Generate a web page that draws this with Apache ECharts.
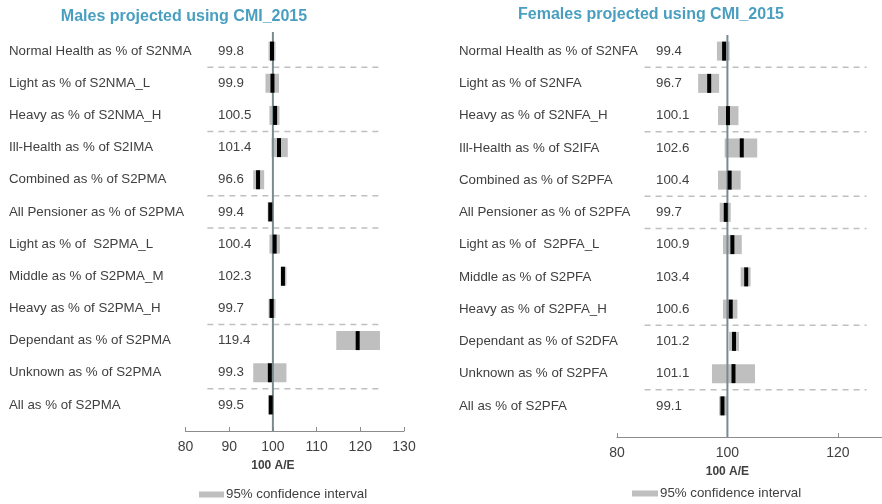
<!DOCTYPE html>
<html>
<head>
<meta charset="utf-8">
<script src="https://cdn.jsdelivr.net/npm/echarts@6/dist/echarts.min.js"></script>
<style>
  html, body { margin: 0; padding: 0; background: #fff; }
  #main { width: 882px; height: 504px; }
</style>
</head>
<body>
<div id="main"></div>
<script>
// 男性数据
var maleLabels = ['Normal Health as % of S2NMA', 'Light as % of S2NMA_L', 'Heavy as % of S2NMA_H',
    'Ill-Health as % of S2IMA', 'Combined as % of S2PMA', 'All Pensioner as % of S2PMA',
    'Light as % of  S2PMA_L', 'Middle as % of S2PMA_M', 'Heavy as % of S2PMA_H',
    'Dependant as % of S2PMA', 'Unknown as % of S2PMA', 'All as % of S2PMA'];
var maleAE = [99.8, 99.9, 100.5, 101.4, 96.6, 99.4, 100.4, 102.3, 99.7, 119.4, 99.3, 99.5];
var maleLow = [99.0, 98.3, 99.2, 99.7, 95.5, 98.8, 99.2, 101.8, 99.0, 114.5, 95.5, 99.0];
var maleHigh = [100.6, 101.4, 101.5, 103.4, 98.0, 100.0, 101.6, 103.1, 100.6, 124.5, 103.1, 100.2];

// 女性数据
var femaleLabels = ['Normal Health as % of S2NFA', 'Light as % of S2NFA', 'Heavy as % of S2NFA_H',
    'Ill-Health as % of S2IFA', 'Combined as % of S2PFA', 'All Pensioner as % of S2PFA',
    'Light as % of  S2PFA_L', 'Middle as % of S2PFA', 'Heavy as % of S2PFA_H',
    'Dependant as % of S2DFA', 'Unknown as % of S2PFA', 'All as % of S2PFA'];
var femaleAE = [99.4, 96.7, 100.1, 102.6, 100.4, 99.7, 100.9, 103.4, 100.6, 101.2, 101.1, 99.1];
var femaleLow = [98.1, 94.7, 98.3, 99.5, 98.3, 98.6, 99.2, 102.4, 99.2, 100.3, 97.2, 98.5];
var femaleHigh = [100.4, 98.5, 102.0, 105.4, 102.4, 100.6, 102.6, 104.2, 101.8, 102.1, 105.0, 99.9];

// 虚线分隔（在这些行之后）
var sepAfter = [0, 2, 4, 5, 8, 10];

var maleTicks = [80, 90, 100, 110, 120, 130];
var femaleTicks = [80, 100, 120];

var FONT = "'Liberation Sans', Arial, sans-serif";
var TEXT = '#404040';
var CI_NAME = '95% confidence interval';

var myChart = echarts.init(document.getElementById('main'));

// 置信区间灰色块
function renderCI(params, api) {
    var row = api.value(3);
    var a = api.coord([api.value(0), row]);
    var b = api.coord([api.value(1), row]);
    return {
        type: 'rect',
        shape: { x: a[0], y: a[1] - 9.5, width: b[0] - a[0], height: 19 },
        style: { fill: '#bfbfbf' }
    };
}

// 黑色估计值标记
function renderEst(params, api) {
    var p = api.coord([api.value(2), api.value(3)]);
    return {
        type: 'rect',
        shape: { x: p[0] - 2, y: p[1] - 9.5, width: 4, height: 19 },
        style: { fill: '#000' }
    };
}

// 虚线
function renderSep(params, api) {
    var row = api.value(0);
    var a = api.coord([85, row]);
    var b = api.coord([125.2, row]);
    var band = api.size([0, 1])[1];
    var y = a[1] + band / 2;
    return {
        type: 'line',
        shape: { x1: a[0], y1: y, x2: b[0], y2: y },
        style: { stroke: '#bfbfbf', lineWidth: 1.5, lineDash: [6, 5] }
    };
}

// 100 参考线 + 坐标轴名
function makeRef(top, off) {
    return function (params, api) {
        var p = api.coord([100, 0]);
        var cs = params.coordSys;
        var bottom = cs.y + cs.height + off;
        return {
            type: 'group',
            children: [{
                type: 'line',
                shape: { x1: p[0], y1: cs.y - top, x2: p[0], y2: bottom },
                style: { stroke: '#7a8b90', lineWidth: 2 }
            }, {
                type: 'text',
                style: {
                    text: '100 A/E', x: p[0], y: bottom + 35,
                    align: 'center', verticalAlign: 'middle',
                    font: 'bold 12px ' + FONT, fill: TEXT
                }
            }]
        };
    };
}

function rows(low, high, ae) {
    var d = [];
    for (var i = 0; i < ae.length; i++) {
        d.push([low[i], high[i], ae[i], i]);
    }
    return d;
}

function panelSeries(idx, low, high, ae, top, off) {
    var data = rows(low, high, ae);
    return [{
        name: CI_NAME,
        type: 'custom',
        xAxisIndex: idx, yAxisIndex: idx * 2,
        renderItem: renderCI,
        itemStyle: { color: '#bfbfbf' },
        encode: { x: [0, 1, 2], y: 3 },
        data: data,
        z: 1, silent: true
    }, {
        type: 'custom',
        xAxisIndex: idx, yAxisIndex: idx * 2,
        renderItem: renderSep,
        encode: { y: 0 },
        data: sepAfter.map(function (r) { return [r]; }),
        z: 1, silent: true
    }, {
        type: 'custom',
        xAxisIndex: idx, yAxisIndex: idx * 2,
        renderItem: makeRef(top, off),
        encode: { x: 0, y: 1 },
        data: [[100, 0]],
        clip: false,
        z: 2, silent: true
    }, {
        type: 'custom',
        xAxisIndex: idx, yAxisIndex: idx * 2,
        renderItem: renderEst,
        encode: { x: [0, 1, 2], y: 3 },
        data: data,
        z: 3, silent: true
    }];
}

function catAxis(idx, data, margin) {
    return {
        type: 'category',
        gridIndex: idx,
        position: 'left',
        inverse: true,
        data: data,
        axisLine: { show: false },
        axisTick: { show: false },
        splitLine: { show: false },
        axisLabel: {
            align: 'left', margin: margin,
            fontSize: 13.3, color: TEXT, fontFamily: FONT
        }
    };
}

function valueAxis(idx, min, max, interval, ticks, off) {
    return {
        type: 'value',
        gridIndex: idx,
        min: min, max: max, interval: interval,
        offset: off,
        splitLine: { show: false },
        axisLine: { show: true, lineStyle: { color: '#8c8c8c', width: 1.2 } },
        axisTick: { show: true, inside: false, length: -4, customValues: ticks, lineStyle: { color: '#8c8c8c' } },
        axisLabel: {
            customValues: ticks,
            margin: 9, fontSize: 14, color: TEXT, fontFamily: FONT
        }
    };
}

var option = {
    animation: false,
    title: [{
        text: 'Males projected using CMI_2015',
        left: 179, top: 4, textAlign: 'center',
        textStyle: { color: '#4a9fc1', fontSize: 16, fontWeight: 'bold', fontFamily: FONT }
    }, {
        text: 'Females projected using CMI_2015',
        left: 646, top: 2, textAlign: 'center',
        textStyle: { color: '#4a9fc1', fontSize: 16, fontWeight: 'bold', fontFamily: FONT }
    }],
    legend: [{
        data: [CI_NAME],
        left: 194, top: 483,
        icon: 'rect', itemWidth: 25, itemHeight: 6, itemGap: 4,
        selectedMode: false,
        textStyle: { fontSize: 13.3, color: TEXT, fontFamily: FONT, padding: [0, 0, 0, -3] }
    }, {
        data: [CI_NAME],
        left: 627, top: 482,
        icon: 'rect', itemWidth: 26, itemHeight: 6, itemGap: 4,
        selectedMode: false,
        textStyle: { fontSize: 13.3, color: TEXT, fontFamily: FONT, padding: [0, 0, 0, -3] }
    }],
    grid: [
        { left: 185.5, width: 218.5, top: 35, height: 386 },
        { left: 617, width: 265, top: 35, height: 387 }
    ],
    xAxis: [
        valueAxis(0, 80, 130, 10, maleTicks, 10),
        valueAxis(1, 80, 128, 20, femaleTicks, 15)
    ],
    yAxis: [
        catAxis(0, maleLabels, 176.5),
        catAxis(0, maleAE.map(function (v) { return v.toFixed(1); }), -32.5),
        catAxis(1, femaleLabels, 158),
        catAxis(1, femaleAE.map(function (v) { return v.toFixed(1); }), -39)
    ],
    series: [].concat(
        panelSeries(0, maleLow, maleHigh, maleAE, 3, 10),
        panelSeries(1, femaleLow, femaleHigh, femaleAE, 0, 15)
    )
};

myChart.setOption(option);
</script>
</body>
</html>
